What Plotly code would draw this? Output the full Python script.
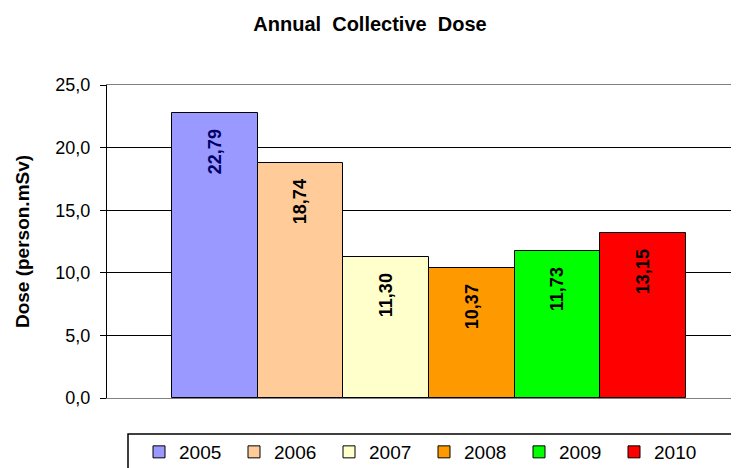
import plotly.graph_objects as go

years = ["2005", "2006", "2007", "2008", "2009", "2010"]
doses = [22.79, 18.74, 11.30, 10.37, 11.73, 13.15]
colors = ["#9999FF", "#FFCC99", "#FFFFCC", "#FF9900", "#00FF00", "#FF0000"]
label_colors = ["#000066", "#000000", "#000000", "#000000", "#000000", "#000000"]
y_ticks = [0, 5, 10, 15, 20, 25]

FONT = "Arial, Liberation Sans, sans-serif"
OFF = 8  # page body margin offset
PW = 739 - (107 - OFF)  # plot width in px

fig = go.Figure()
for yr, d, c, lc in zip(years, doses, colors, label_colors):
    fig.add_trace(go.Bar(
        x=[yr], y=[d], name=yr,
        marker=dict(color=c, line=dict(color="#000000", width=1)),
        text=[f"{d:.2f}".replace(".", ",") + "\u00a0\u00a0\u2009"],
        textposition="inside", insidetextanchor="end", textangle=-90,
        textfont=dict(family=FONT, size=18, color=lc, weight="bold"),
        width=1,
    ))

fig.update_layout(
    width=739, height=468,
    margin=dict(l=107 - OFF, r=0, t=85 - OFF, b=468 - (398 - OFF), autoexpand=False),
    paper_bgcolor="white", plot_bgcolor="white",
    bargap=0,
    showlegend=True,
    title=dict(text="<b>Annual  Collective  Dose</b>", x=(370 - OFF) / 739, xref="container", xanchor="center",
               y=1 - (24 - OFF) / 468, yref="container", yanchor="middle",
               font=dict(family=FONT, size=20, color="#000000")),
    font=dict(family=FONT, size=16, color="#000000"),
    legend=dict(orientation="h", x=(180 - OFF - 41) / 739, xref="container", xanchor="left",
                y=1 - (452 - OFF) / 468, yref="container", yanchor="middle",
                font=dict(family=FONT, size=19, color="#000000"),
                entrywidth=50, entrywidthmode="pixels",
                bgcolor="rgba(0,0,0,0)", itemclick=False),
    xaxis=dict(type="category", range=[-1.258, 6.212], showticklabels=False, ticks="",
               showgrid=False, showline=True, linecolor="#808080", linewidth=1, mirror=True,
               fixedrange=True),
    yaxis=dict(range=[0, 25], tickvals=y_ticks, tickformat=".1f", ticks="outside", ticklen=6,
               tickcolor="#000000", showline=True, linecolor="#000000", linewidth=1,
               showgrid=True, gridcolor="#000000", gridwidth=1, zeroline=False,
               ticklabelstandoff=6,
               tickfont=dict(family=FONT, size=18, color="#000000"),
               title=dict(text="<b>Dose (person.mSv)</b>", font=dict(family=FONT, size=19), standoff=20)),
    separators=", ",
    shapes=[dict(type="rect", xref="paper", yref="paper", x0=(128 - 107) / PW, x1=(735 - 107) / PW,
                 y0=-(434 - 398) / 313, y1=-(490 - 398) / 313,
                 line=dict(color="#000000", width=1.5), fillcolor="rgba(0,0,0,0)")],
)
fig.write_html("out.html")
